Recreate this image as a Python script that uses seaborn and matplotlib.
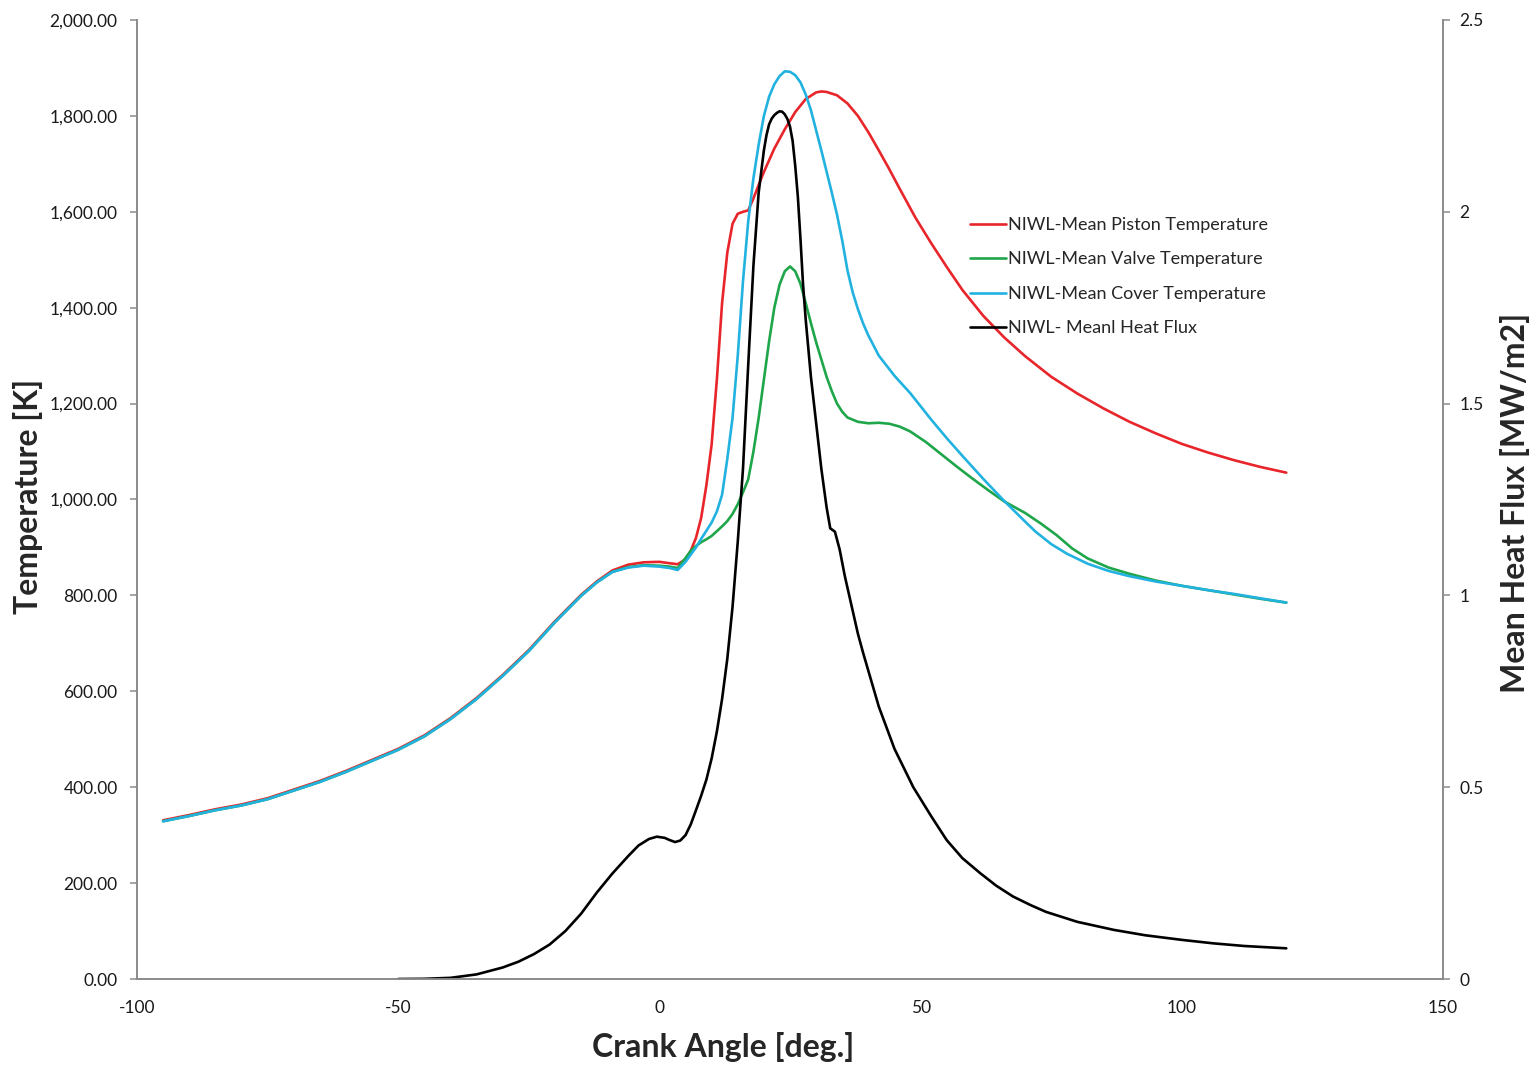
import numpy as np
import pandas as pd
import matplotlib
matplotlib.use("Agg")
import matplotlib.pyplot as plt
import matplotlib.ticker as mticker
import seaborn as sns

# ---- data: crank angle [deg] vs temperature [K] ----
piston_angle = [-95, -90, -85, -80, -75, -70, -65, -60, -55, -50, -45, -40, -35, -30, -25,
                -20, -15, -12, -9, -6, -3, 0, 2, 3.5, 5, 6, 7, 8, 9, 10, 11, 12, 13, 14,
                15, 16, 17, 18, 19, 20, 22, 24, 26, 28, 30, 31, 32, 34, 36, 38, 40, 42,
                44, 46, 49, 52, 55, 58, 62, 66, 70, 75, 80, 85, 90, 95, 100, 105, 110,
                115, 120]
piston_temp = [331, 342, 354, 364, 377, 395, 413, 434, 457, 480, 508, 544, 586, 634, 686,
               746, 801, 829, 852, 864, 869, 870, 867, 865, 875, 893, 920, 962, 1030, 1115,
               1250, 1410, 1515, 1575, 1596, 1600, 1603, 1628, 1656, 1683, 1732, 1772,
               1808, 1835, 1849, 1851, 1850, 1843, 1826, 1800, 1766, 1728, 1689, 1648,
               1588, 1535, 1485, 1437, 1383, 1338, 1299, 1256, 1221, 1190, 1162, 1138,
               1116, 1098, 1082, 1068, 1056]

valve_angle = [-95, -90, -85, -80, -75, -70, -65, -60, -55, -50, -45, -40, -35, -30, -25,
               -20, -15, -12, -9, -6, -3, 0, 2, 3.5, 5, 6, 7, 8, 9, 10, 11, 12, 13, 14,
               15, 16, 17, 18, 19, 20, 21, 22, 23, 24, 25, 26, 27, 28, 29, 30, 31, 32,
               33, 34, 35, 36, 38, 40, 42, 44, 46, 48, 51, 54, 57, 60, 63, 66, 70, 73,
               76, 79, 82, 86, 90, 95, 100, 105, 110, 115, 120]
valve_temp = [329, 340, 352, 362, 375, 393, 411, 432, 455, 478, 506, 542, 584, 632, 684,
              744, 799, 827, 849, 859, 863, 862, 860, 857, 878, 893, 903, 911, 917, 924,
              934, 944, 955, 970, 990, 1015, 1042, 1100, 1170, 1250, 1330, 1400, 1448,
              1476, 1486, 1476, 1450, 1410, 1368, 1328, 1292, 1256, 1226, 1200, 1183,
              1171, 1162, 1159, 1160, 1158, 1152, 1142, 1120, 1094, 1068, 1043, 1019,
              996, 972, 950, 926, 898, 877, 858, 845, 831, 820, 811, 802, 793, 785]

cover_angle = [-95, -90, -85, -80, -75, -70, -65, -60, -55, -50, -45, -40, -35, -30, -25,
               -20, -15, -12, -9, -6, -3, 0, 2, 3.5, 5, 6, 7, 8, 9, 10, 11, 12, 13, 14,
               15, 16, 17, 18, 19, 20, 21, 22, 23, 24, 25, 26, 27, 28, 29, 30, 31, 32,
               33, 34, 35, 36, 37, 38, 39, 40, 42, 45, 48, 52, 55, 58, 62, 66, 70, 72,
               75, 78, 82, 86, 90, 95, 100, 105, 110, 115, 120]
cover_temp = [329, 340, 352, 362, 375, 393, 411, 432, 455, 478, 506, 542, 584, 632, 684,
              744, 799, 827, 849, 858, 862, 860, 857, 853, 870, 885, 900, 918, 935, 952,
              975, 1010, 1085, 1170, 1300, 1455, 1580, 1670, 1740, 1800, 1840, 1866,
              1883, 1893, 1892, 1885, 1870, 1845, 1812, 1770, 1728, 1684, 1640, 1594,
              1540, 1478, 1432, 1397, 1367, 1342, 1300, 1258, 1222, 1167, 1128, 1091,
              1043, 997, 954, 933, 907, 887, 866, 851, 840, 829, 820, 811, 803, 794, 785]

# ---- data: crank angle [deg] vs mean heat flux [MW/m2] ----
flux_angle = [-50, -45, -40, -35, -30, -27, -24, -21, -18, -15, -12, -9, -6, -4, -2, -0.5,
              1, 2, 3, 4, 5, 6, 7, 8, 9, 10, 11, 12, 13, 14, 15, 16, 17, 18, 19, 20,
              20.5, 21, 21.5, 22, 22.5, 23, 23.5, 24, 24.5, 25, 25.5, 26, 26.5, 27, 27.5,
              28, 29, 30, 31, 32, 32.7, 33.6, 34.5, 35.5, 36.5, 38, 39, 42, 45, 48.6, 52,
              55, 58, 61.4, 64.5, 67.7, 71, 74, 80, 87, 93, 100, 106, 112, 116, 120]
flux_value = [0.0, 0.0005, 0.003, 0.012, 0.03, 0.045, 0.065, 0.09, 0.125, 0.17, 0.225,
              0.275, 0.32, 0.348, 0.365, 0.371, 0.368, 0.362, 0.357, 0.361, 0.375, 0.403,
              0.44, 0.478, 0.52, 0.575, 0.645, 0.73, 0.835, 0.97, 1.14, 1.33, 1.6, 1.86,
              2.05, 2.16, 2.2, 2.228, 2.243, 2.252, 2.258, 2.262, 2.261, 2.254, 2.242,
              2.222, 2.185, 2.12, 2.04, 1.93, 1.81, 1.72, 1.57, 1.45, 1.33, 1.23, 1.175,
              1.166, 1.12, 1.05, 0.99, 0.9, 0.85, 0.71, 0.6, 0.5, 0.425, 0.362, 0.315,
              0.276, 0.243, 0.215, 0.193, 0.175, 0.149, 0.128, 0.114, 0.102, 0.093, 0.086,
              0.083, 0.08]

x_ticks = [-100, -50, 0, 50, 100, 150]
temp_ticks = list(range(0, 2001, 200))
flux_ticks = [0, 0.5, 1, 1.5, 2, 2.5]

series = [
    ("NIWL-Mean Piston Temperature", piston_angle, piston_temp, "#E8252A"),
    ("NIWL-Mean Valve Temperature", valve_angle, valve_temp, "#1FA64A"),
    ("NIWL-Mean Cover Temperature", cover_angle, cover_temp, "#22B2E0"),
]
flux_label = "NIWL- Meanl Heat Flux"

sns.set_theme(style="white")
plt.rcParams["font.family"] = ["Lato", "DejaVu Sans"]
plt.rcParams["axes.unicode_minus"] = False

fig = plt.figure(figsize=(15.38, 10.66), dpi=100)
ax = fig.add_axes([137 / 1538, 1 - 979 / 1066, (1443 - 137) / 1538, (979 - 20) / 1066])
ax2 = ax.twinx()

for name, xs, ys, col in series:
    df = pd.DataFrame({"angle": xs, "value": ys})
    sns.lineplot(data=df, x="angle", y="value", ax=ax, color=col, linewidth=1.9,
                 label=name, estimator=None, sort=True)

df_flux = pd.DataFrame({"angle": flux_angle, "value": flux_value})
sns.lineplot(data=df_flux, x="angle", y="value", ax=ax2, color="black", linewidth=1.9,
             label=flux_label, estimator=None, sort=True)

ax.set_xlim(-100, 150)
ax.set_ylim(0, 2000)
ax2.set_ylim(0, 2.5)
ax.set_xticks(x_ticks)
ax.set_yticks(temp_ticks)
ax2.set_yticks(flux_ticks)
ax.yaxis.set_major_formatter(mticker.FuncFormatter(lambda v, p: f"{v:,.2f}"))
ax2.yaxis.set_major_formatter(mticker.FuncFormatter(lambda v, p: f"{v:g}"))

spine_col = "#8C8C8C"
for a in (ax, ax2):
    a.spines["top"].set_visible(False)
    for s in ("left", "right", "bottom"):
        a.spines[s].set_color(spine_col)
        a.spines[s].set_linewidth(1.3)
    a.tick_params(axis="both", which="major", direction="out", length=5, width=1.1,
                  color=spine_col, labelsize=12.5, labelcolor="#1a1a1a")
    a.grid(False)
ax.tick_params(axis="y", pad=9)
ax2.tick_params(axis="y", pad=7)
ax.tick_params(axis="x", pad=10)

ax.set_xlabel("Crank Angle [deg.]", fontsize=23, fontweight="bold", va="center")
ax.xaxis.set_label_coords(0.449, -0.071)
ax.set_ylabel("Temperature [K]", fontsize=23, fontweight="bold", va="center")
ax.yaxis.set_label_coords(-0.0835, 0.503)
ax2.set_ylabel("Mean Heat Flux [MW/m2]", fontsize=23, fontweight="bold", va="center",
               rotation=90)
ax2.yaxis.set_label_coords(1.055, 0.496)

h1, l1 = ax.get_legend_handles_labels()
h2, l2 = ax2.get_legend_handles_labels()
if ax.get_legend():
    ax.get_legend().remove()
if ax2.get_legend():
    ax2.get_legend().remove()
fig.legend(h1 + h2, l1 + l2, loc="upper left",
           bbox_to_anchor=(970 / 1538, 1 - 217 / 1066),
           frameon=False, fontsize=13, handlelength=2.0, handletextpad=0.12,
           labelspacing=1.02, borderpad=0, borderaxespad=0)

fig.savefig("out.png", dpi=100, facecolor="white")
